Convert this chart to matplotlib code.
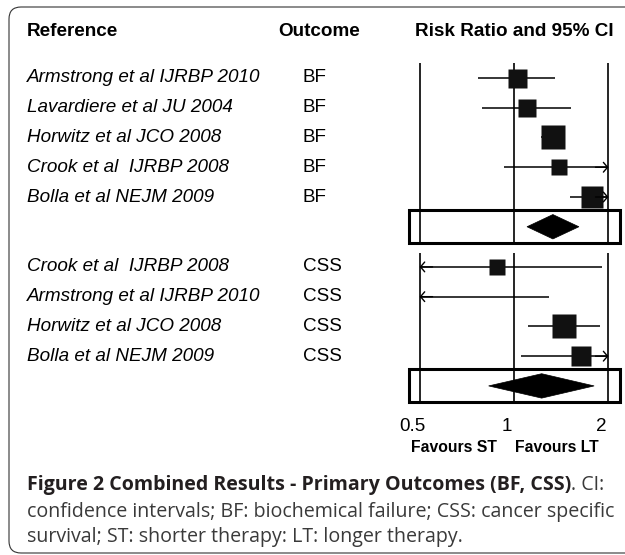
import matplotlib
matplotlib.use('Agg')
import matplotlib.pyplot as plt
import matplotlib.transforms as mtrans
from matplotlib.patches import Rectangle, FancyBboxPatch, Polygon

# data (risk ratio, 95% CI, relative weight)
studies_bf = ['Armstrong et al IJRBP 2010', 'Lavardiere et al JU 2004',
              'Horwitz et al JCO 2008', 'Crook et al  IJRBP 2008',
              'Bolla et al NEJM 2009']
rr_bf = [1.02, 1.10, 1.33, 1.39, 1.77]
lo_bf = [0.77, 0.79, 1.22, 0.93, 1.51]
hi_bf = [1.35, 1.52, 1.45, 2.40, 2.60]
wt_bf = [19, 17.5, 24, 16, 22]
pool_bf = [1.33, 1.10, 1.61]

studies_css = ['Crook et al  IJRBP 2008', 'Armstrong et al IJRBP 2010',
               'Horwitz et al JCO 2008', 'Bolla et al NEJM 2009']
rr_css = [0.88, 0.40, 1.44, 1.64]
lo_css = [0.30, 0.10, 1.11, 1.05]
hi_css = [1.91, 1.29, 1.88, 2.60]
wt_css = [15.5, 10, 23.5, 20.5]
pool_css = [1.225, 0.83, 1.80]

ticks = [0.5, 1, 2]
tick_labels = ['0.5', '1', '2']

W, H = 625, 555
XMIN, XMAX = 0.5, 2.0

fig = plt.figure(figsize=(W / 100, H / 100), dpi=100)
ax = fig.add_axes([400 / W, 1 - 460 / H, 225 / W, 405 / H])
ax.set_xscale('log')
ax.set_xlim(0.433, 2.258)
ax.set_ylim(12.84, -0.773)
ax.axis('off')

rows_bf = [0, 1, 2, 3, 4]
row_pool_bf = 5
rows_css = [6.35, 7.35, 8.35, 9.35]
row_pool_css = 10.35

# vertical reference lines
ax.vlines(ticks, -0.5, 5.5, color='k', lw=1.2)
ax.vlines(ticks, 5.87, 10.96, color='k', lw=1.2)


def draw_study(y, est, lo, hi, side):
    a, b = max(lo, XMIN), min(hi, XMAX)
    ax.plot([a, b], [y, y], color='k', lw=1.1, solid_capstyle='butt')
    ap = dict(arrowstyle='->,head_length=0.3,head_width=0.35', lw=1.0,
              color='k', shrinkA=0, shrinkB=0, mutation_scale=10)
    if lo < XMIN:
        ax.annotate('', xy=(XMIN, y), xytext=(XMIN * 1.1, y), arrowprops=ap)
    if hi > XMAX:
        ax.annotate('', xy=(XMAX, y), xytext=(XMAX / 1.1, y), arrowprops=ap)
    if XMIN <= est <= XMAX:
        ax.plot(est, y, marker='s', ms=side * 0.72, color='#111111', mec='none')


def draw_pool(y, vals):
    est, lo, hi = vals
    h = 0.41
    ax.add_patch(Polygon([(lo, y), (est, y - h), (hi, y), (est, y + h)],
                         closed=True, fc='black', ec='black', lw=0.5))
    ax.add_patch(Rectangle((0.463, y - 0.57), 2.176 - 0.463, 1.12,
                           fill=False, ec='black', lw=2.2))


for y, e, l, h, w in zip(rows_bf, rr_bf, lo_bf, hi_bf, wt_bf):
    draw_study(y, e, l, h, w)
for y, e, l, h, w in zip(rows_css, rr_css, lo_css, hi_css, wt_css):
    draw_study(y, e, l, h, w)
draw_pool(row_pool_bf, pool_bf)
draw_pool(row_pool_css, pool_css)

# left side table text
tr = mtrans.blended_transform_factory(fig.transFigure, ax.transData)
tfont = dict(family='Liberation Sans', size=13.6)
ax.text(27 / W, -1.55, 'Reference', transform=tr, weight='bold', va='center', **tfont)
ax.text(278 / W, -1.55, 'Outcome', transform=tr, weight='bold', va='center', **tfont)
ax.text(415 / W, -1.55, 'Risk Ratio and 95% CI', transform=tr, weight='bold',
        va='center', **tfont)
for y, s in zip(rows_bf, studies_bf):
    ax.text(27 / W, y, s, transform=tr, style='italic', va='center', **tfont)
    ax.text(303 / W, y, 'BF', transform=tr, va='center', **tfont)
for y, s in zip(rows_css, studies_css):
    ax.text(27 / W, y, s, transform=tr, style='italic', va='center', **tfont)
    ax.text(303 / W, y, 'CSS', transform=tr, va='center', **tfont)

# tick labels
tick_tr = mtrans.offset_copy(ax.transData, fig=fig, x=-7, y=0, units='dots')
for t, lab in zip(ticks, tick_labels):
    ax.text(t, 11.7, lab, transform=tick_tr, ha='center', va='center', **tfont)
fig.text(454 / W, 1 - 447 / H, 'Favours ST', ha='center', va='center',
         weight='bold', family='Liberation Sans', size=11.3)
fig.text(557 / W, 1 - 447 / H, 'Favours LT', ha='center', va='center',
         weight='bold', family='Liberation Sans', size=11.3)

# caption
cap = dict(family='Open Sans', size=14.1, color='#231f20', va='center')
b = fig.text(27 / W, 1 - 485 / H, 'Figure 2 Combined Results - Primary Outcomes (BF, CSS)',
             weight='bold', **cap)
fig.canvas.draw()
bb = b.get_window_extent()
cap['color'] = '#3a3a3a'
fig.text(bb.x1 / W, 1 - 485 / H, '. CI:', **cap)
fig.text(27 / W, 1 - 512 / H,
         'confidence intervals; BF: biochemical failure; CSS: cancer specific', **cap)
fig.text(27 / W, 1 - 537 / H, 'survival; ST: shorter therapy: LT: longer therapy.', **cap)

# outer frame
frame = FancyBboxPatch((9, 2), 640, 546, boxstyle='round,pad=0,rounding_size=12',
                       transform=mtrans.IdentityTransform(), fill=False,
                       ec='#333333', lw=0.8)
fig.add_artist(frame)

fig.savefig('out.png', dpi=100)
